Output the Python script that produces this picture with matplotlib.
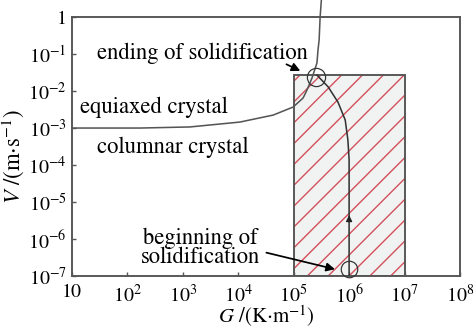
import numpy as np
import matplotlib
matplotlib.use("Agg")
import matplotlib.pyplot as plt
from matplotlib.patches import Rectangle

plt.rcParams['font.family'] = 'STIXGeneral'
plt.rcParams['mathtext.fontset'] = 'stix'
plt.rcParams['hatch.linewidth'] = 0.8

# columnar-to-equiaxed transition line (G in K/m, V in m/s)
cet_G = [10, 170, 1.35e3, 1.07e4, 4.27e4, 9.8e4, 1.48e5, 1.74e5, 2.14e5, 2.63e5, 2.75e5, 2.88e5, 3.0e5, 3.16e5]
cet_V = [1e-3, 1e-3, 1.07e-3, 1.45e-3, 2.24e-3, 3.7e-3, 6.5e-3, 1.07e-2, 2.24e-2, 5.75e-2, 0.13, 0.24, 1.0, 2.9]

# solidification path
path_G = [1e6, 1e6, 9.5e5, 8.5e5, 6.3e5, 4.2e5, 2.63e5]
path_V = [1e-7, 1.4e-4, 4.8e-4, 1.66e-3, 5.0e-3, 1.29e-2, 2.7e-2]

# process window
win_G = (1e5, 1e7)
win_V = (1e-7, 2.7e-2)

start_pt = (1e6, 1.55e-7)
end_pt = (2.5e5, 2.4e-2)

xticks = [1e1, 1e2, 1e3, 1e4, 1e5, 1e6, 1e7, 1e8]
xlabels = ['10', '$10^2$', '$10^3$', '$10^4$', '$10^5$', '$10^6$', '$10^7$', '$10^8$']
yticks = [1e-7, 1e-6, 1e-5, 1e-4, 1e-3, 1e-2, 1e-1, 1]
ylabels = ['$10^{-7}$', '$10^{-6}$', '$10^{-5}$', '$10^{-4}$', '$10^{-3}$', '$10^{-2}$', '$10^{-1}$', '1']

fig = plt.figure(figsize=(473/125, 328/125), dpi=125)
ax = fig.add_axes([0.152, 0.1585, 0.8205, 0.7895])
ax.set_xscale('log')
ax.set_yscale('log')
ax.set_xlim(10, 1e8)
ax.set_ylim(1e-7, 1)

# hatched window: fill + red hatch, then grey outline
ax.add_patch(Rectangle((win_G[0], win_V[0]), win_G[1]-win_G[0], win_V[1]-win_V[0],
                       facecolor='#f1f3f3', edgecolor='#d4505c', hatch='//', linewidth=0, zorder=1))
ax.add_patch(Rectangle((win_G[0], win_V[0]), win_G[1]-win_G[0], win_V[1]-win_V[0],
                       facecolor='none', edgecolor='#555555', linewidth=1.1, zorder=2))

ax.plot(cet_G, cet_V, color='#555555', lw=0.9, clip_on=False, zorder=3)
ax.plot(path_G, path_V, color='#333333', lw=0.9, zorder=3)
ax.plot(*start_pt, marker='o', ms=9.5, mfc='none', mec='#333333', mew=0.7, clip_on=False, zorder=4)
ax.plot(*end_pt, marker='o', ms=10.5, mfc='none', mec='#333333', mew=0.7, clip_on=False, zorder=4)

# arrow along the path
ax.annotate('', xy=(1e6, 5.5e-6), xytext=(1e6, 2.5e-6),
            arrowprops=dict(arrowstyle='-|>', color='#222222', lw=0.8, mutation_scale=7))

fs = 13
ax.text(28, 0.107, 'ending of solidification', fontsize=fs, va='center', ha='left')
ax.annotate('', xy=(1.5e5, 0.032), xytext=(6.5e4, 0.058),
            arrowprops=dict(arrowstyle='-|>', color='black', lw=1.0, mutation_scale=10))
ax.text(13.8, 3.7e-3, 'equiaxed crystal', fontsize=fs, va='center', ha='left')
ax.text(28, 3.1e-4, 'columnar crystal', fontsize=fs, va='center', ha='left')
ax.text(2.1e3, 5.8e-7, 'beginning of\nsolidification', fontsize=fs, va='center', ha='center',
        linespacing=0.85)
ax.annotate('', xy=(6.4e5, 1.45e-7), xytext=(2.8e4, 4.5e-7),
            arrowprops=dict(arrowstyle='-|>', color='black', lw=1.0, mutation_scale=10))

ax.xaxis.set_minor_locator(matplotlib.ticker.NullLocator())
ax.yaxis.set_minor_locator(matplotlib.ticker.NullLocator())
ax.set_xticks(xticks)
ax.set_xticklabels(xlabels)
ax.set_yticks(yticks)
ax.set_yticklabels(ylabels)
ax.tick_params(direction='in', length=2.5, width=0.8, labelsize=11.5, colors='#555555',
               labelcolor='black', pad=3)
ax.tick_params(axis='x', pad=4.5)
for s in ax.spines.values():
    s.set_color('#555555')
    s.set_linewidth(1.1)

ax.set_xlabel('$G$ /(K$\\cdot$m$^{-1}$)', fontsize=12)
ax.xaxis.set_label_coords(0.5, -0.108)
ax.set_ylabel('$V$ /(m$\\cdot$s$^{-1}$)', fontsize=fs, labelpad=1)
ax.yaxis.set_label_coords(-0.117, 0.46)

fig.savefig('out.png', dpi=125)
